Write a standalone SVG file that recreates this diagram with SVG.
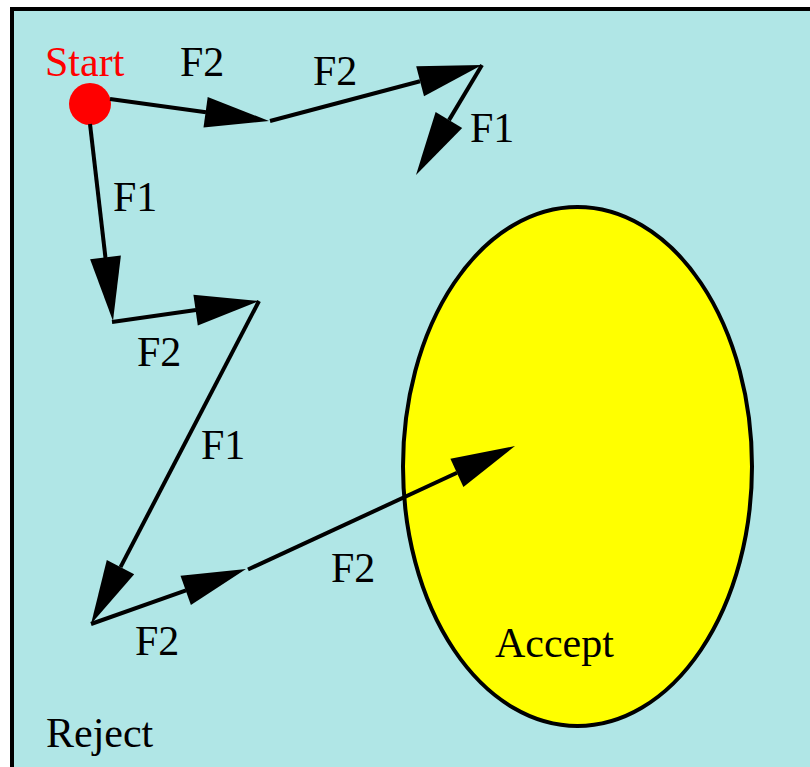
<svg xmlns="http://www.w3.org/2000/svg" width="810" height="767" viewBox="0 0 810 767">
<style>
.lbl{font-family:"Liberation Serif","Times New Roman",serif;font-size:42px;fill:#000}
.edge{stroke:#000;stroke-width:4;fill:none}
.head{fill:#000;stroke:none}
</style>
<rect x="0" y="0" width="810" height="767" fill="#ffffff"/>
<g id="reject">
<rect x="12" y="9" width="810" height="770" fill="#b0e6e6" stroke="#000" stroke-width="4"/>
<text class="lbl" x="46" y="747">Reject</text>
</g>
<g id="accept">
<ellipse cx="577.5" cy="466.5" rx="174.5" ry="259.5" fill="#ffff00" stroke="#000" stroke-width="4"/>
<text class="lbl" x="495" y="657">Accept</text>
</g>
<g id="start">
<circle cx="90" cy="104" r="21" fill="#ff0000"/>
<text class="lbl" x="45" y="76" style="fill:#ff0000">Start</text>
</g>
<g id="connectors">
<line class="edge" x1="110" y1="99" x2="206" y2="112.2"/>
<polygon class="head" points="269,121 203.5,127.5 207.7,96.9"/>
<line class="edge" x1="270" y1="121" x2="420" y2="81.3"/>
<polygon class="head" points="482,65 424,96.3 416.2,66.3"/>
<line class="edge" x1="482" y1="65" x2="449" y2="120.1"/>
<polygon class="head" points="416,175 435.6,112.1 462.2,128.1"/>
<line class="edge" x1="90" y1="124" x2="105.5" y2="258"/>
<polygon class="head" points="113,321 120.9,255.6 90.1,259.2"/>
<line class="edge" x1="112" y1="322" x2="196" y2="310.1"/>
<polygon class="head" points="259,301 197.8,325.4 193.4,294.8"/>
<line class="edge" x1="259" y1="301" x2="120.5" y2="567.2"/>
<polygon class="head" points="91,624 106.8,560.1 134.2,574.3"/>
<line class="edge" x1="91" y1="624" x2="186" y2="590.4"/>
<polygon class="head" points="246,569 190.9,605 180.5,575.8"/>
<line class="edge" x1="248" y1="569.5" x2="457" y2="472.8"/>
<polygon class="head" points="515,446 463.4,486.9 450.4,458.7"/>
</g>
<g id="edge-labels">
<text class="lbl" x="180" y="76">F2</text>
<text class="lbl" x="313" y="85">F2</text>
<text class="lbl" x="470" y="142">F1</text>
<text class="lbl" x="113" y="211">F1</text>
<text class="lbl" x="137" y="366">F2</text>
<text class="lbl" x="201" y="459">F1</text>
<text class="lbl" x="331" y="582">F2</text>
<text class="lbl" x="135" y="655">F2</text>
</g>
</svg>
